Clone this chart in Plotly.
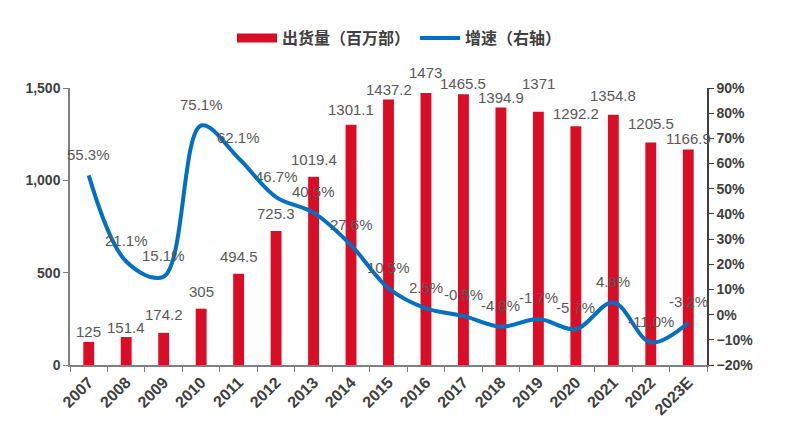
import plotly.graph_objects as go

years = ["2007", "2008", "2009", "2010", "2011", "2012", "2013", "2014", "2015",
         "2016", "2017", "2018", "2019", "2020", "2021", "2022", "2023E"]
shipments = [125, 151.4, 174.2, 305, 494.5, 725.3, 1019.4, 1301.1, 1437.2,
             1473, 1465.5, 1394.9, 1371, 1292.2, 1354.8, 1205.5, 1166.9]
growth = [55.3, 21.1, 15.1, 75.1, 62.1, 46.7, 40.5, 27.6, 10.5,
          2.5, -0.5, -4.8, -1.7, -5.7, 4.8, -11.0, -3.2]

bar_labels = [f"{v:g}" for v in shipments]
growth_labels = [f"{v:.1f}%" for v in growth]

# label nudges (pixels above bar top) – styling only
bar_label_shift = [10, 10, 18, 17, 17, 18, 17, 15, 10, 20, 11, 10, 28, 13, 19, 19, 11]

RED = "#D90D25"
BLUE = "#0070C0"
LABEL = "#595959"
AXIS_TXT = "#404040"
FONT = "Liberation Sans, Arial, sans-serif"
CJK = "Noto Sans CJK SC, sans-serif"

W, H = 783, 425  # page body adds an 8px offset

fig = go.Figure()
fig.add_trace(go.Bar(
    x=years, y=shipments, name="出货量（百万部）", showlegend=False,
    marker=dict(color=RED, line=dict(width=0)),
    width=0.29, yaxis="y",
))
# legend-only swatch for the bars (wide rectangle like the reference)
fig.add_trace(go.Scatter(
    x=[None], y=[None], name="出货量（百万部）", mode="lines",
    line=dict(color=RED, width=9), yaxis="y", hoverinfo="skip",
))
fig.add_trace(go.Scatter(
    x=years, y=growth, name="增速（右轴）", mode="lines",
    line=dict(color=BLUE, width=4, shape="spline", smoothing=1.0),
    yaxis="y2",
))

annotations = []
for i, (v, t, s) in enumerate(zip(shipments, bar_labels, bar_label_shift)):
    annotations.append(dict(x=i, y=v, xref="x", yref="y", text=t, showarrow=False,
                            yshift=s, font=dict(family=FONT, size=15, color=LABEL)))
for i, (v, t) in enumerate(zip(growth, growth_labels)):
    annotations.append(dict(x=i, y=v, xref="x", yref="y2", text=t, showarrow=False,
                            yshift=21, font=dict(family=FONT, size=15, color=LABEL)))

fig.update_layout(
    width=W, height=H,
    margin=dict(l=62, r=84, t=80, b=68, autoexpand=False),
    paper_bgcolor="white", plot_bgcolor="white",
    showlegend=True,
    legend=dict(orientation="h", x=0.5, xanchor="center", xref="container",
                y=1 - 30 / H, yanchor="middle", yref="container",
                font=dict(family=CJK, size=16, color=AXIS_TXT, weight="bold"),
                itemwidth=40, traceorder="normal"),
    xaxis=dict(
        type="category", showgrid=False, showline=True, linecolor="#808080", linewidth=1.5,
        ticks="outside", tickson="boundaries", ticklen=5, tickcolor="#808080",
        tickangle=-45, tickfont=dict(family=FONT, size=16, color=AXIS_TXT, weight="bold"),
        range=[-0.5, 16.5],
    ),
    yaxis=dict(
        range=[0, 1500], dtick=500, tickformat=",", showgrid=False, zeroline=False,
        showline=True, linecolor="#808080", linewidth=1.5, ticks="outside", ticklen=5,
        tickcolor="#808080",
        tickfont=dict(family=FONT, size=14, color=AXIS_TXT, weight="bold"),
    ),
    yaxis2=dict(
        range=[-20, 90], dtick=10, ticksuffix="%", overlaying="y", side="right",
        showgrid=False, zeroline=False, showline=True, linecolor="#404040", linewidth=1.5,
        ticks="outside", ticklen=5, tickcolor="#404040",
        tickfont=dict(family=FONT, size=14, color=AXIS_TXT, weight="bold"),
    ),
    annotations=annotations,
)

fig.write_html("out.html")
